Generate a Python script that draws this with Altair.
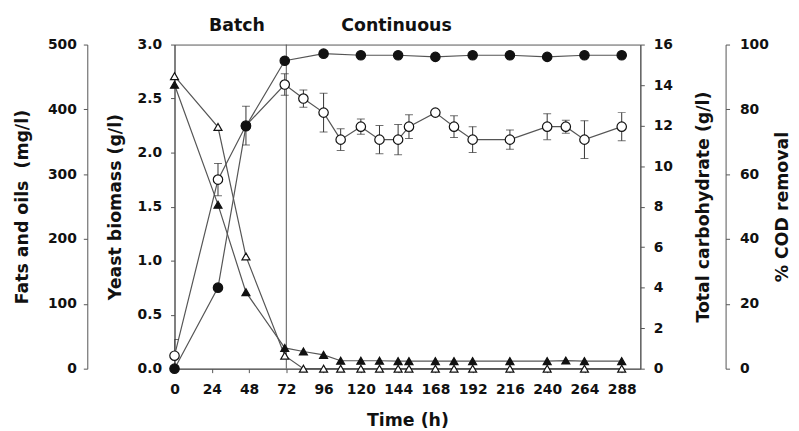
import altair as alt
import pandas as pd

# ---- data ----
t_cod = [0, 28, 46, 71, 96, 120, 144, 168, 192, 216, 240, 264, 288]
cod_removal = [0, 25, 74.8, 95, 97.2, 96.7, 96.7, 96.2, 96.7, 96.7, 96.2, 96.7, 96.7]

t_yeast = [0, 28, 46, 71, 83, 96, 107, 120, 132, 144, 151, 168, 180, 192, 216, 240, 252, 264, 288]
yeast_biomass = [0.12, 1.75, 2.25, 2.63, 2.50, 2.37, 2.12, 2.24, 2.12, 2.12, 2.24, 2.37, 2.24, 2.12, 2.12, 2.24, 2.24, 2.12, 2.24]
yeast_err = [0.15, 0.15, 0.18, 0.10, 0.08, 0.18, 0.10, 0.07, 0.13, 0.14, 0.11, 0.02, 0.10, 0.12, 0.09, 0.12, 0.06, 0.175, 0.13]

t_fats = [0, 28, 46, 71, 83, 96, 107, 120, 132, 144, 151, 168, 180, 192, 216, 240, 252, 264, 288]
fats_oils = [438, 253, 118, 32, 26.5, 21.3, 12.2, 12.2, 12.2, 11.7, 11.7, 11.7, 11.7, 11.7, 11.7, 11.7, 12.5, 11.7, 11.7]

t_carb = [0, 28, 46, 71, 83, 96, 107, 120, 132, 144, 151, 168, 180, 192, 216, 240, 264, 288]
total_carb = [14.44, 11.93, 5.54, 0.64, 0, 0, 0, 0, 0, 0, 0, 0, 0, 0, 0, 0, 0, 0]

phase_labels = ["Batch", "Continuous"]
switch_time = [72]
x_ticks = list(range(0, 289, 24))

# ---- tables ----
df_cod = pd.DataFrame({"t": t_cod, "v": cod_removal})
df_yeast = pd.DataFrame({"t": t_yeast, "v": yeast_biomass, "e": yeast_err})
df_yeast["lo"] = df_yeast["v"] - df_yeast["e"]
df_yeast["hi"] = df_yeast["v"] + df_yeast["e"]
df_fats = pd.DataFrame({"t": t_fats, "v": fats_oils})
df_carb = pd.DataFrame({"t": t_carb, "v": total_carb})
df_switch = pd.DataFrame({"t": switch_time})

FONT = "DejaVu Sans"
LINE = "#555555"
INK = "#111111"

x_enc = alt.X(
    "t:Q",
    scale=alt.Scale(domain=[0, 300], nice=False, zero=False),
    axis=alt.Axis(values=x_ticks, title="Time (h)", tickSize=4, labelPadding=10,
                  titlePadding=15, labelFlush=False),
)

def yscale(dom):
    return alt.Scale(domain=dom, nice=False, zero=False)

YEAST = [0, 3]
FATS = [0, 500]
CARB = [0, 16]
COD = [0, 100]

ax_yeast = alt.Axis(orient="left", values=[0, 0.5, 1, 1.5, 2, 2.5, 3], format=".1f",
                    title="Yeast biomass (g/l)", tickSize=4, labelPadding=9, titlePadding=13)
ax_fats = alt.Axis(orient="left", offset=88, values=[0, 100, 200, 300, 400, 500],
                   title="Fats and oils\u00a0\u00a0(mg/l)", tickSize=4, labelPadding=7, titlePadding=16)
ax_carb = alt.Axis(orient="right", values=list(range(0, 17, 2)),
                   title="Total carbohydrate (g/l)", tickSize=4, labelPadding=9,
                   titlePadding=22, titleAngle=270, titleBaseline="top")
ax_cod = alt.Axis(orient="right", offset=86, values=[0, 20, 40, 60, 80, 100],
                  title="% COD removal", tickSize=4, labelPadding=10,
                  titlePadding=5, titleAngle=270, titleBaseline="top")

rule72 = alt.Chart(df_switch).mark_rule(color=LINE, strokeWidth=1).encode(x=x_enc)

def line(df, dom, axis):
    return alt.Chart(df).mark_line(color=LINE, strokeWidth=1.2).encode(
        x=x_enc, y=alt.Y("v:Q", scale=yscale(dom), axis=axis))

def pts(df, dom, shape, filled, size):
    return alt.Chart(df).mark_point(
        shape=shape, filled=True, size=size,
        fill=INK if filled else "white", stroke=INK, strokeWidth=1.2, opacity=1,
    ).encode(x=x_enc, y=alt.Y("v:Q", scale=yscale(dom), axis=None))

line_fats = line(df_fats, FATS, ax_fats)
line_yeast = line(df_yeast, YEAST, ax_yeast)
line_carb = line(df_carb, CARB, ax_carb)
line_cod = line(df_cod, COD, ax_cod)

err_rule = alt.Chart(df_yeast).mark_rule(color="#333333", strokeWidth=1, clip=True).encode(
    x=x_enc, y=alt.Y("lo:Q", scale=yscale(YEAST), axis=None), y2="hi:Q")
err_lo = alt.Chart(df_yeast).mark_tick(color="#333333", orient="horizontal", size=8,
                                       thickness=1, clip=True).encode(
    x=x_enc, y=alt.Y("lo:Q", scale=yscale(YEAST), axis=None))
err_hi = alt.Chart(df_yeast).mark_tick(color="#333333", orient="horizontal", size=8,
                                       thickness=1, clip=True).encode(
    x=x_enc, y=alt.Y("hi:Q", scale=yscale(YEAST), axis=None))

p_yeast = pts(df_yeast, YEAST, "circle", False, 90)
p_carb = pts(df_carb, CARB, "triangle-up", False, 65)
p_fats = pts(df_fats, FATS, "triangle-up", True, 65)
p_cod = pts(df_cod, COD, "circle", True, 90)

labels = alt.Chart(pd.DataFrame({"label": phase_labels, "px": [63, 224]})).mark_text(
    font=FONT, fontWeight="bold", fontSize=17.5, color=INK, baseline="middle", align="center"
).encode(x=alt.X("px:Q", scale=None), y=alt.value(-19), text="label:N")

chart = alt.layer(
    rule72, line_fats, line_yeast, line_carb, line_cod,
    err_rule, err_lo, err_hi,
    p_yeast, p_carb, p_fats, p_cod, labels,
).resolve_scale(y="independent").properties(
    width=470, height=327,
    autosize=alt.AutoSizeParams(type="none"),
    padding={"left": 168, "top": 35, "right": 152, "bottom": 60},
    background="white",
).configure_view(stroke=LINE, strokeWidth=1).configure_axis(
    labelFont=FONT, labelFontWeight="bold", labelFontSize=14, labelColor=INK,
    titleFont=FONT, titleFontWeight="bold", titleFontSize=17.5, titleColor=INK,
    domainColor=LINE, tickColor=LINE, grid=False,
)

chart.save("out.html", embed_options={"renderer": "svg", "actions": False})
